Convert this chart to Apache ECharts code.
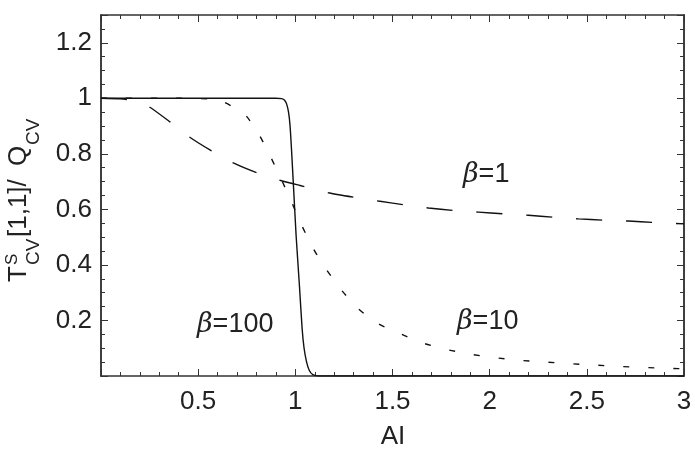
<!DOCTYPE html>
<html>
<head>
<meta charset="utf-8">
<script src="https://cdn.jsdelivr.net/npm/echarts@6/dist/echarts.min.js"></script>
<style>
  html, body { margin: 0; padding: 0; background: #fff; }
  #chart { width: 695px; height: 462px; }
</style>
</head>
<body>
<div id="chart"></div>
<script>
// values, [AI, ratio]
const beta1 = [
  [0, 1.0], [0.1, 0.998], [0.18, 0.99], [0.249, 0.969], [0.355, 0.915],
  [0.454, 0.861], [0.57, 0.81], [0.678, 0.768], [0.801, 0.732], [0.921, 0.705],
  [1.024, 0.686], [1.17, 0.66], [1.299, 0.644], [1.427, 0.63], [1.556, 0.617],
  [1.685, 0.605], [1.813, 0.596], [1.942, 0.59], [2.071, 0.584], [2.199, 0.579],
  [2.328, 0.572], [2.457, 0.566], [2.585, 0.561], [2.714, 0.558], [2.843, 0.553],
  [3.0, 0.548]
];
const beta10 = [
  [0, 1.0], [0.4, 1.0], [0.55, 0.998], [0.621, 0.99], [0.741, 0.941],
  [0.815, 0.867], [0.873, 0.789], [0.93, 0.705], [0.981, 0.626], [1.033, 0.542],
  [1.093, 0.458], [1.16, 0.383], [1.239, 0.308], [1.324, 0.242], [1.427, 0.188],
  [1.547, 0.15], [1.659, 0.118], [1.788, 0.094], [1.916, 0.077], [2.036, 0.065],
  [2.165, 0.056], [2.294, 0.05], [2.422, 0.044], [2.551, 0.039], [2.68, 0.034],
  [2.817, 0.03], [2.945, 0.027], [3.0, 0.026]
];
const beta100 = [
  [0, 1.0], [0.9, 1.0], [0.93, 0.999], [0.945, 0.993], [0.955, 0.98],
  [0.965, 0.95], [0.973, 0.9], [0.98, 0.82], [0.99, 0.69], [1.004, 0.506],
  [1.021, 0.326], [1.035, 0.17], [1.045, 0.1], [1.058, 0.05], [1.072, 0.02],
  [1.09, 0.005], [1.12, 0.0], [3.0, 0.0]
];
const xTickLabels = ['0.5', '1', '1.5', '2', '2.5', '3'];
const yTickLabels = ['0.2', '0.4', '0.6', '0.8', '1', '1.2'];

const font = 'Liberation Sans';
const ink = '#222';
const frame = '#333';

let chart = echarts.init(document.getElementById('chart'));

function pick(list) {
  return function (v) {
    let s = String(Math.round(v * 100) / 100);
    return list.indexOf(s) >= 0 ? s : '';
  };
}

function yAxisDef(pos, interval, tickLen, labels) {
  return {
    type: 'value', position: pos, min: 0, max: 1.3, interval: interval,
    axisLine: { show: true, onZero: false, lineStyle: { color: frame, width: 1.5 } },
    axisTick: { show: true, inside: true, length: tickLen, lineStyle: { color: frame, width: 1 } },
    axisLabel: labels ? { show: true, margin: 9, fontSize: 26, fontFamily: font, color: ink, formatter: pick(yTickLabels) } : { show: false },
    splitLine: { show: false }
  };
}

function xAxisDef(pos, labels) {
  return {
    type: 'value', position: pos, min: 0, max: 3, interval: 0.5,
    axisLine: { show: true, onZero: false, lineStyle: { color: frame, width: 1.5 } },
    axisTick: { show: true, inside: true, length: 7, lineStyle: { color: frame, width: 1 } },
    minorTick: { show: true, splitNumber: 5, length: 4, lineStyle: { color: frame, width: 1 } },
    axisLabel: labels ? { show: true, margin: 13, fontSize: 26, fontFamily: font, color: ink, formatter: pick(xTickLabels) } : { show: false },
    splitLine: { show: false }
  };
}

function curve(data, dash) {
  return {
    type: 'line', data: data, xAxisIndex: 0, yAxisIndex: 0,
    showSymbol: false, smooth: 0.2, silent: true,
    lineStyle: { color: '#111', width: 1.4, type: dash }
  };
}

function txt(t, x, y, size) {
  return {
    type: 'text', x: x, y: y,
    style: {
      text: t, fontSize: size, fontFamily: font, fill: ink,
      align: 'left', textAlign: 'left', verticalAlign: 'middle', textVerticalAlign: 'middle'
    }
  };
}

function beta(label, x, y) {
  return {
    type: 'text', x: x, y: y,
    style: {
      text: '{i|β}=' + label, fontSize: 27, fontFamily: font, fill: ink,
      align: 'left', textAlign: 'left', verticalAlign: 'middle', textVerticalAlign: 'middle',
      rich: { i: { fontStyle: 'italic', fontSize: 27, fontFamily: 'DejaVu Serif', fill: ink } }
    }
  };
}

let option = {
  animation: false,
  backgroundColor: '#fff',
  grid: { left: 101, right: 11, top: 15, bottom: 86 },
  xAxis: [xAxisDef('bottom', true), xAxisDef('top', false)],
  yAxis: [
    yAxisDef('left', 0.2, 7, true),
    yAxisDef('left', 0.05, 4, false),
    yAxisDef('right', 0.2, 7, false),
    yAxisDef('right', 0.05, 4, false)
  ],
  series: [
    curve(beta100, 'solid'),
    curve(beta10, [6, 19]),
    curve(beta1, [26, 24])
  ],
  graphic: [
    beta('1', 463, 175),
    beta('100', 197, 325),
    beta('10', 457, 322),
    {
      type: 'text', x: 393, y: 437,
      style: {
        text: 'AI', fontSize: 26, fontFamily: font, fill: ink,
        align: 'center', textAlign: 'center', verticalAlign: 'middle', textVerticalAlign: 'middle'
      }
    },
    {
      type: 'group', x: 19, y: 282, rotation: Math.PI / 2,
      children: [
        txt('T', 0, 0, 26),
        txt('S', 17, -7, 17),
        txt('CV', 17, 15, 19),
        txt('[1,1]/', 45, 0, 26),
        txt('Q', 116, 0, 26),
        txt('CV', 137, 15, 19)
      ]
    }
  ]
};
chart.setOption(option);
</script>
</body>
</html>
